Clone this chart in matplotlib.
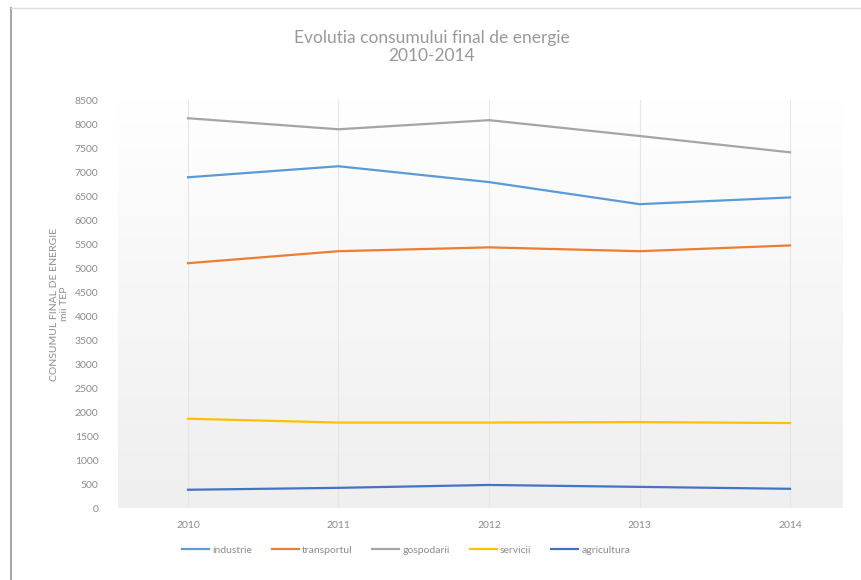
import numpy as np
import matplotlib
matplotlib.use("Agg")
import matplotlib.pyplot as plt
from matplotlib.lines import Line2D

plt.rcParams['font.family'] = ['Lato', 'DejaVu Sans']

years = ['2010', '2011', '2012', '2013', '2014']
industrie = [6890, 7120, 6790, 6330, 6470]
transportul = [5100, 5350, 5430, 5350, 5470]
gospodarii = [8120, 7890, 8080, 7750, 7410]
servicii = [1860, 1780, 1780, 1790, 1770]
agricultura = [380, 420, 480, 440, 400]

series = [
    ('industrie', industrie, '#5B9BD5'),
    ('transportul', transportul, '#ED7D31'),
    ('gospodarii', gospodarii, '#A5A5A5'),
    ('servicii', servicii, '#FFC000'),
    ('agricultura', agricultura, '#4472C4'),
]

fig = plt.figure(figsize=(8.61, 5.8), dpi=100)
W, H = 861, 580
ax = fig.add_axes([118 / W, 1 - 508 / H, (843 - 118) / W, (508 - 100) / H])

# plot area gradient, white at top to light grey at bottom
grad = np.linspace(1.0, 0.0, 256).reshape(-1, 1)
cmap = matplotlib.colors.LinearSegmentedColormap.from_list(
    'g', [(0, '#efefef'), (0.55, '#f7f7f7'), (1, '#ffffff')])
ax.imshow(grad, aspect='auto', cmap=cmap, extent=[0, 1, 0, 1],
          transform=ax.transAxes, zorder=0, vmin=0, vmax=1)

x = np.arange(len(years))
for name, vals, col in series:
    ax.plot(x, vals, color=col, lw=1.6, label=name, zorder=3)

ax.set_xlim(-0.465, 4.352)
ax.set_ylim(0, 8500)
ax.set_yticks(np.arange(0, 8501, 500))
ax.set_xticks(x)
ax.set_xticklabels(years)
for xi in x:
    ax.axvline(xi, color='#e6e6e6', lw=0.8, zorder=1)

for s in ax.spines.values():
    s.set_visible(False)
ax.tick_params(length=0, labelsize=7.5, colors='#8c8c8c', pad=14)
ax.tick_params(axis='x', pad=9)

ax.set_ylabel('CONSUMUL FINAL DE ENERGIE\nmii TEP', fontsize=7.5,
              color='#8c8c8c', labelpad=4, linespacing=1.2)

fig.text(432 / W, 1 - 47 / H, 'Evolutia consumului final de energie\n2010-2014',
         ha='center', va='center', fontsize=12.5, color='#999999', linespacing=1.1)

handles = [Line2D([], [], color=c, lw=1.6) for _, _, c in series]
fig.legend(handles, [n for n, _, _ in series], loc='center',
           bbox_to_anchor=(406 / W, 1 - 550 / H), ncol=5, frameon=False,
           fontsize=7.5, labelcolor='#8c8c8c', handlelength=2.6,
           handletextpad=0.3, columnspacing=1.9)

# outer frame of the chart
fig.add_artist(Line2D([11 / W, 11 / W], [0, 1 - 8 / H], color='#a8a8a8', lw=1.5,
                      transform=fig.transFigure))
fig.add_artist(Line2D([11 / W, 1], [1 - 8 / H, 1 - 8 / H], color='#dddddd', lw=1.0,
                      transform=fig.transFigure))

fig.savefig('out.png', dpi=100)
